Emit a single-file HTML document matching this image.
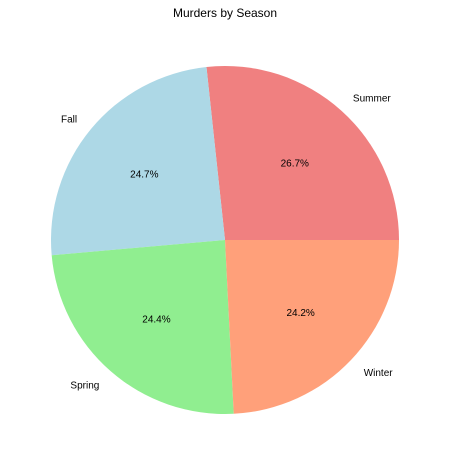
<!DOCTYPE html>
<html><head><meta charset="utf-8"><style>
body{margin:0;background:#fff;}
svg text{font-family:"Liberation Sans","DejaVu Sans",sans-serif;font-size:10px;fill:#000;}
</style></head><body>
<svg id="chart" width="449" height="465" viewBox="0 0 449 465">
<rect width="449" height="465" fill="#fff"/>
<text x="225" y="17" text-anchor="middle" style="font-size:12px">Murders by Season</text>
<g id="slices"></g>
</svg>
<script>
const categories = ["Summer","Fall","Spring","Winter"];
const values = [26.7,24.7,24.4,24.2];
const pctLabels = ["26.7%","24.7%","24.4%","24.2%"];
const colors = ["#f08080","#add8e6","#90ee90","#ffa07a"];
const cx=225, cy=240, r=174;
const g=document.getElementById('slices');
const NS="http://www.w3.org/2000/svg";
const total=values.reduce((a,b)=>a+b,0);
let start=0;
function pt(a,rr){return [cx+rr*Math.cos(a), cy-rr*Math.sin(a)];}
values.forEach((v,i)=>{
  const ang=v/total*2*Math.PI, end=start+ang;
  const [x1,y1]=pt(start,r),[x2,y2]=pt(end,r);
  const p=document.createElementNS(NS,'path');
  p.setAttribute('d',`M${cx},${cy} L${x1},${y1} A${r},${r} 0 ${ang>Math.PI?1:0} 0 ${x2},${y2} Z`);
  p.setAttribute('fill',colors[i]);
  
  
  g.appendChild(p);
  const mid=(start+end)/2;
  const [lx,ly]=pt(mid,r*1.1);
  const t=document.createElementNS(NS,'text');
  t.setAttribute('x',lx);t.setAttribute('y',ly+4);
  t.setAttribute('text-anchor',Math.cos(mid)>=0?'start':'end');
  t.textContent=categories[i];
  
  
  g.appendChild(t);
  const [px,py]=pt(mid,r*0.6);
  const t2=document.createElementNS(NS,'text');
  t2.setAttribute('x',px);t2.setAttribute('y',py+4);
  t2.setAttribute('text-anchor','middle');
  t2.textContent=pctLabels[i];
  
  
  g.appendChild(t2);
  start=end;
});
</script>
</body></html>
